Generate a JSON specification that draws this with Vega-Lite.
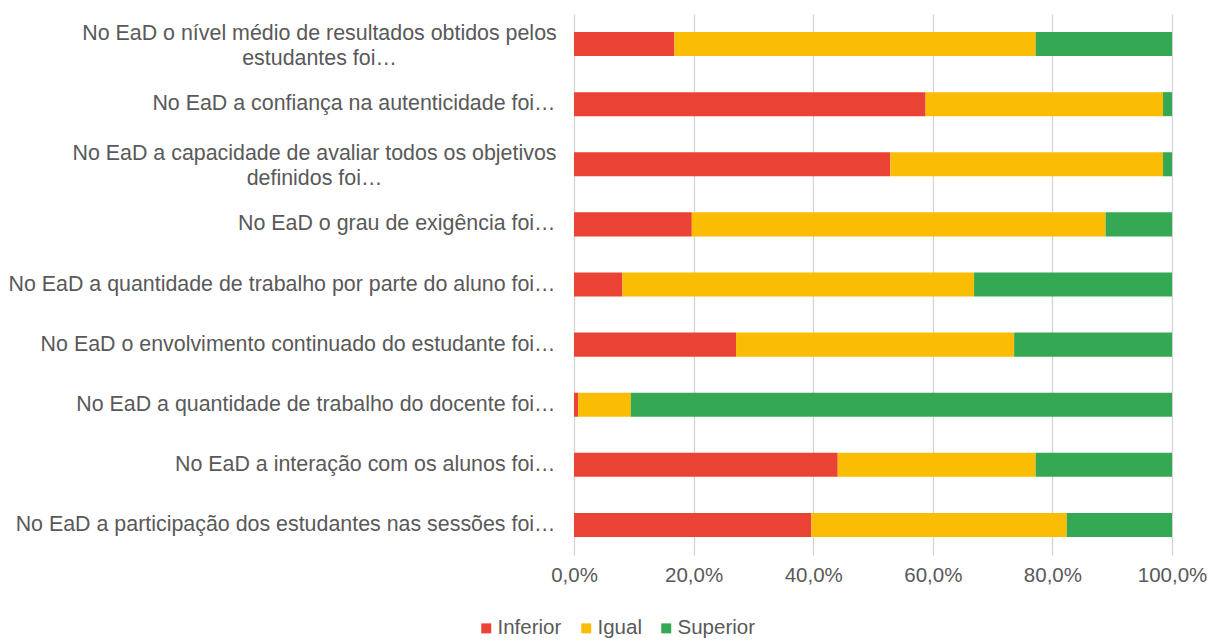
{
  "$schema": "https://vega.github.io/schema/vega-lite/v6.json",
  "autosize": "none",
  "width": 598,
  "height": 541,
  "padding": {"left": 574, "top": 14, "right": 39, "bottom": 86},
  "background": "#ffffff",
  "config": {
    "view": {"stroke": null},
    "font": "Liberation Sans",
    "text": {"font": "Liberation Sans"}
  },
  "data": {
    "values": [
      {"q": "No EaD o nível médio de resultados obtidos pelos\nestudantes foi…", "cat": "Inferior", "v": 16.8},
      {"q": "No EaD o nível médio de resultados obtidos pelos\nestudantes foi…", "cat": "Igual", "v": 60.4},
      {"q": "No EaD o nível médio de resultados obtidos pelos\nestudantes foi…", "cat": "Superior", "v": 22.8},
      {"q": "No EaD a confiança na autenticidade foi…", "cat": "Inferior", "v": 58.8},
      {"q": "No EaD a confiança na autenticidade foi…", "cat": "Igual", "v": 39.7},
      {"q": "No EaD a confiança na autenticidade foi…", "cat": "Superior", "v": 1.5},
      {"q": "No EaD a capacidade de avaliar todos os objetivos\ndefinidos foi…", "cat": "Inferior", "v": 52.9},
      {"q": "No EaD a capacidade de avaliar todos os objetivos\ndefinidos foi…", "cat": "Igual", "v": 45.6},
      {"q": "No EaD a capacidade de avaliar todos os objetivos\ndefinidos foi…", "cat": "Superior", "v": 1.5},
      {"q": "No EaD o grau de exigência foi…", "cat": "Inferior", "v": 19.7},
      {"q": "No EaD o grau de exigência foi…", "cat": "Igual", "v": 69.2},
      {"q": "No EaD o grau de exigência foi…", "cat": "Superior", "v": 11.1},
      {"q": "No EaD a quantidade de trabalho por parte do aluno foi…", "cat": "Inferior", "v": 8.1},
      {"q": "No EaD a quantidade de trabalho por parte do aluno foi…", "cat": "Igual", "v": 58.8},
      {"q": "No EaD a quantidade de trabalho por parte do aluno foi…", "cat": "Superior", "v": 33.1},
      {"q": "No EaD o envolvimento continuado do estudante foi…", "cat": "Inferior", "v": 27.1},
      {"q": "No EaD o envolvimento continuado do estudante foi…", "cat": "Igual", "v": 46.5},
      {"q": "No EaD o envolvimento continuado do estudante foi…", "cat": "Superior", "v": 26.4},
      {"q": "No EaD a quantidade de trabalho do docente foi…", "cat": "Inferior", "v": 0.7},
      {"q": "No EaD a quantidade de trabalho do docente foi…", "cat": "Igual", "v": 8.8},
      {"q": "No EaD a quantidade de trabalho do docente foi…", "cat": "Superior", "v": 90.5},
      {"q": "No EaD a interação com os alunos  foi…", "cat": "Inferior", "v": 44.1},
      {"q": "No EaD a interação com os alunos  foi…", "cat": "Igual", "v": 33.1},
      {"q": "No EaD a interação com os alunos  foi…", "cat": "Superior", "v": 22.8},
      {"q": "No EaD a participação dos estudantes nas sessões foi…", "cat": "Inferior", "v": 39.7},
      {"q": "No EaD a participação dos estudantes nas sessões foi…", "cat": "Igual", "v": 42.7},
      {"q": "No EaD a participação dos estudantes nas sessões foi…", "cat": "Superior", "v": 17.6}
    ]
  },
  "transform": [
    {"calculate": "indexof(['Inferior','Igual','Superior'], datum.cat)", "as": "ord"}
  ],
  "mark": {"type": "bar"},
  "encoding": {
    "y": {
      "field": "q",
      "type": "nominal",
      "sort": null,
      "scale": {"paddingInner": 0.6, "paddingOuter": 0.3},
      "axis": {
        "title": null,
        "domain": false,
        "ticks": false,
        "labelFontSize": 21.4,
        "labelColor": "#595959",
        "labelLimit": 600,
        "labelLineHeight": 25,
        "labelExpr": "split(datum.label, '\\n')",
        "labelAlign": {"condition": {"test": "indexof(datum.value, '\\n') >= 0", "value": "center"}, "value": "right"},
        "labelPadding": {"condition": [
          {"test": "indexof(datum.value, 'nível') >= 0", "value": 255},
          {"test": "indexof(datum.value, 'capacidade') >= 0", "value": 260}
        ], "value": 19},
        "labelOffset": {"condition": {"test": "indexof(datum.value, '\\n') >= 0", "value": -10}, "value": 0}
      }
    },
    "x": {
      "field": "v",
      "type": "quantitative",
      "stack": "normalize",
      "scale": {"domain": [0, 1], "nice": false},
      "axis": {
        "title": null,
        "domain": false,
        "ticks": false,
        "values": [0, 0.2, 0.4, 0.6, 0.8, 1],
        "labelExpr": "replace(format(datum.value * 100, '.1f'), '.', ',') + '%'",
        "labelFontSize": 20.5,
        "labelColor": "#595959",
        "labelPadding": 10,
        "labelFlush": false,
        "grid": true,
        "gridColor": "#d4d4d4",
        "gridWidth": 1.3
      }
    },
    "color": {
      "field": "cat",
      "type": "nominal",
      "scale": {"domain": ["Inferior", "Igual", "Superior"], "range": ["#EA4335", "#FBBC04", "#34A853"]},
      "legend": {
        "title": null,
        "orient": "none",
        "direction": "horizontal",
        "legendX": -98,
        "legendY": 604,
        "symbolType": "square",
        "symbolSize": 100,
        "symbolStrokeWidth": 0,
        "symbolOpacity": 1,
        "labelFontSize": 20.5,
        "labelColor": "#595959",
        "labelOffset": 1,
        "columnPadding": 14
      }
    },
    "order": {"field": "ord", "type": "quantitative"}
  }
}
